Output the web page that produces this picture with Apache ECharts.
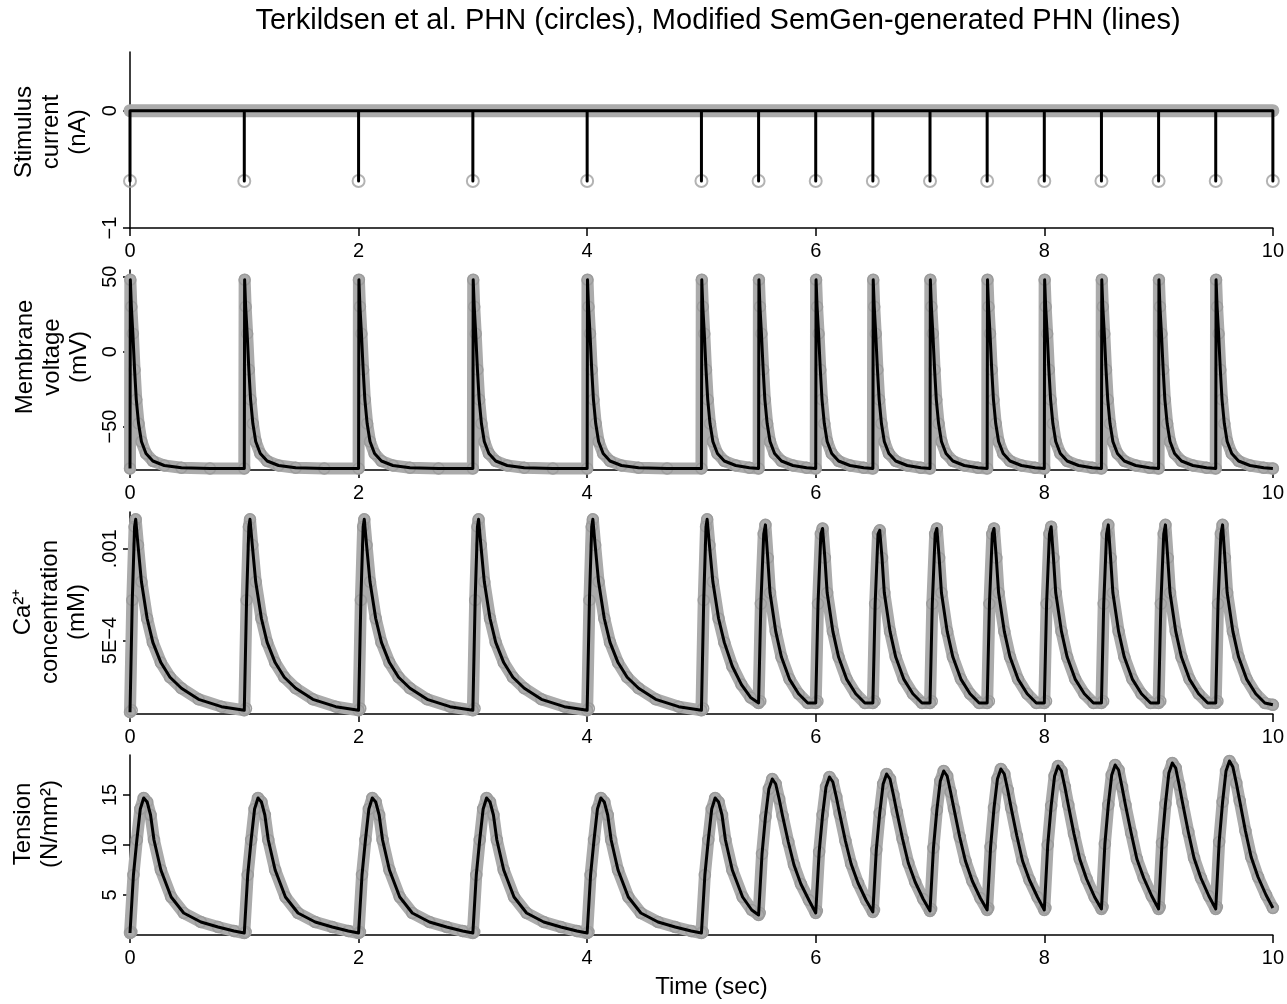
<!DOCTYPE html>
<html>
<head>
<meta charset="utf-8">
<script src="https://cdn.jsdelivr.net/npm/echarts@6/dist/echarts.min.js"></script>
<style>
html,body{margin:0;padding:0;background:#fff;}
#chart{width:1287px;height:1004px;}
</style>
</head>
<body>
<div id="chart"></div>
<script>
// ---------- data ----------
const stimTimes = [0,1,2,3,4,5,5.5,6,6.5,7,7.5,8,8.5,9,9.5,10];
const stimAmps  = [-0.6,-0.6,-0.6,-0.6,-0.6,-0.6,-0.6,-0.6,-0.6,-0.6,-0.6,-0.6,-0.6,-0.6,-0.6,-0.6];
const stimBaseTimes  = [0,10];
const stimBaseValues = [0,0];

const voltTimes = [
 0,0.003,0.012,0.025,0.04,0.055,0.075,0.1,0.14,0.2,0.3,0.45,0.7,
 1,1.003,1.012,1.025,1.04,1.055,1.075,1.1,1.14,1.2,1.3,1.45,1.7,
 2,2.003,2.012,2.025,2.04,2.055,2.075,2.1,2.14,2.2,2.3,2.45,2.7,
 3,3.003,3.012,3.025,3.04,3.055,3.075,3.1,3.14,3.2,3.3,3.45,3.7,
 4,4.003,4.012,4.025,4.04,4.055,4.075,4.1,4.14,4.2,4.3,4.45,4.7,
 5,5.003,5.012,5.025,5.04,5.055,5.075,5.1,5.14,5.2,5.3,5.42,
 5.5,5.503,5.512,5.525,5.54,5.555,5.575,5.6,5.64,5.7,5.8,5.92,
 6,6.003,6.012,6.025,6.04,6.055,6.075,6.1,6.14,6.2,6.3,6.42,
 6.5,6.503,6.512,6.525,6.54,6.555,6.575,6.6,6.64,6.7,6.8,6.92,
 7,7.003,7.012,7.025,7.04,7.055,7.075,7.1,7.14,7.2,7.3,7.42,
 7.5,7.503,7.512,7.525,7.54,7.555,7.575,7.6,7.64,7.7,7.8,7.92,
 8,8.003,8.012,8.025,8.04,8.055,8.075,8.1,8.14,8.2,8.3,8.42,
 8.5,8.503,8.512,8.525,8.54,8.555,8.575,8.6,8.64,8.7,8.8,8.92,
 9,9.003,9.012,9.025,9.04,9.055,9.075,9.1,9.14,9.2,9.3,9.42,
 9.5,9.503,9.512,9.525,9.54,9.555,9.575,9.6,9.64,9.7,9.8,9.92,
 10];
const voltValues = [
 -78,48,30,12,-12,-32,-48,-60,-68,-73,-76,-77.5,-78,
 -78,48,30,12,-12,-32,-48,-60,-68,-73,-76,-77.5,-78,
 -78,48,30,12,-12,-32,-48,-60,-68,-73,-76,-77.5,-78,
 -78,48,30,12,-12,-32,-48,-60,-68,-73,-76,-77.5,-78,
 -78,48,30,12,-12,-32,-48,-60,-68,-73,-76,-77.5,-78,
 -78,48,30,12,-12,-32,-48,-60,-68,-73,-76,-77.5,
 -78,48,30,12,-12,-32,-48,-60,-68,-73,-76,-77.5,
 -78,48,30,12,-12,-32,-48,-60,-68,-73,-76,-77.5,
 -78,48,30,12,-12,-32,-48,-60,-68,-73,-76,-77.5,
 -78,48,30,12,-12,-32,-48,-60,-68,-73,-76,-77.5,
 -78,48,30,12,-12,-32,-48,-60,-68,-73,-76,-77.5,
 -78,48,30,12,-12,-32,-48,-60,-68,-73,-76,-77.5,
 -78,48,30,12,-12,-32,-48,-60,-68,-73,-76,-77.5,
 -78,48,30,12,-12,-32,-48,-60,-68,-73,-76,-77.5,
 -78,48,30,12,-12,-32,-48,-60,-68,-73,-76,-77.5,
 -78];

const caTimes = [
 0,0.015,0.02,0.04,0.05,0.07,0.1,0.15,0.2,0.27,0.35,0.45,0.6,0.8,
 1,1.015,1.02,1.04,1.05,1.07,1.1,1.15,1.2,1.27,1.35,1.45,1.6,1.8,
 2,2.015,2.02,2.04,2.05,2.07,2.1,2.15,2.2,2.27,2.35,2.45,2.6,2.8,
 3,3.015,3.02,3.04,3.05,3.07,3.1,3.15,3.2,3.27,3.35,3.45,3.6,3.8,
 4,4.015,4.02,4.04,4.05,4.07,4.1,4.15,4.2,4.27,4.35,4.45,4.6,4.8,
 5,5.015,5.02,5.04,5.05,5.07,5.1,5.15,5.2,5.27,5.35,5.43,
 5.5,5.515,5.52,5.545,5.56,5.58,5.6,5.65,5.7,5.77,5.85,5.93,
 6,6.015,6.02,6.045,6.06,6.08,6.1,6.15,6.2,6.27,6.35,6.43,
 6.5,6.515,6.52,6.545,6.56,6.58,6.6,6.65,6.7,6.77,6.85,6.93,
 7,7.015,7.02,7.045,7.06,7.08,7.1,7.15,7.2,7.27,7.35,7.43,
 7.5,7.515,7.52,7.545,7.56,7.58,7.6,7.65,7.7,7.77,7.85,7.93,
 8,8.015,8.02,8.045,8.06,8.08,8.1,8.15,8.2,8.27,8.35,8.43,
 8.5,8.515,8.52,8.545,8.56,8.58,8.6,8.65,8.7,8.77,8.85,8.93,
 9,9.015,9.02,9.045,9.06,9.08,9.1,9.15,9.2,9.27,9.35,9.43,
 9.5,9.515,9.52,9.545,9.56,9.58,9.6,9.65,9.7,9.77,9.85,9.93,
 10];
const caValues = [
 0.00011,0.00012,0.00072,0.00112,0.00116,0.00102,0.00082,0.00062,0.00049,0.00038,0.00030,0.00024,0.00018,0.00014,
 0.00012,0.00013,0.00072,0.00112,0.00116,0.00102,0.00082,0.00062,0.00049,0.00038,0.00030,0.00024,0.00018,0.00014,
 0.00012,0.00013,0.00072,0.00112,0.00116,0.00102,0.00082,0.00062,0.00049,0.00038,0.00030,0.00024,0.00018,0.00014,
 0.00012,0.00013,0.00072,0.00112,0.00116,0.00102,0.00082,0.00062,0.00049,0.00038,0.00030,0.00024,0.00018,0.00014,
 0.00012,0.00013,0.00072,0.00112,0.00116,0.00102,0.00082,0.00062,0.00049,0.00038,0.00030,0.00024,0.00018,0.00014,
 0.00012,0.00013,0.00072,0.00112,0.00116,0.00102,0.00082,0.00062,0.00049,0.00036,0.00026,0.00019,
 0.00016,0.00017,0.00070,0.00108,0.00113,0.00095,0.00076,0.00055,0.00041,0.00029,0.00021,0.00016,
 0.00016,0.00017,0.00070,0.00108,0.00111,0.00095,0.00076,0.00055,0.00041,0.00029,0.00021,0.00016,
 0.00016,0.00017,0.00070,0.00108,0.00110,0.00095,0.00076,0.00055,0.00041,0.00029,0.00021,0.00016,
 0.00016,0.00017,0.00070,0.00108,0.00111,0.00095,0.00076,0.00055,0.00041,0.00029,0.00021,0.00016,
 0.00016,0.00017,0.00070,0.00108,0.00111,0.00095,0.00076,0.00055,0.00041,0.00029,0.00021,0.00016,
 0.00016,0.00017,0.00070,0.00108,0.00112,0.00095,0.00076,0.00055,0.00041,0.00029,0.00021,0.00016,
 0.00016,0.00017,0.00070,0.00108,0.00113,0.00095,0.00076,0.00055,0.00041,0.00029,0.00021,0.00016,
 0.00016,0.00017,0.00070,0.00108,0.00113,0.00095,0.00076,0.00055,0.00041,0.00029,0.00021,0.00016,
 0.00016,0.00017,0.00070,0.00108,0.00113,0.00095,0.00076,0.00055,0.00041,0.00029,0.00021,0.00016,
 0.00015];

const tensTimes = [
 0,0.012,0.03,0.06,0.09,0.12,0.15,0.18,0.21,0.27,0.36,0.47,0.62,0.77,0.91,
 1,1.012,1.03,1.06,1.09,1.12,1.15,1.18,1.21,1.27,1.36,1.47,1.62,1.77,1.91,
 2,2.012,2.03,2.06,2.09,2.12,2.15,2.18,2.21,2.27,2.36,2.47,2.62,2.77,2.91,
 3,3.012,3.03,3.06,3.09,3.12,3.15,3.18,3.21,3.27,3.36,3.47,3.62,3.77,3.91,
 4,4.012,4.03,4.06,4.09,4.12,4.15,4.18,4.21,4.27,4.36,4.47,4.62,4.77,4.91,
 5,5.012,5.03,5.06,5.09,5.12,5.15,5.18,5.21,5.27,5.36,5.44,
 5.5,5.51,5.53,5.56,5.59,5.62,5.65,5.68,5.71,5.76,5.81,5.87,5.94,
 6,6.01,6.03,6.06,6.09,6.12,6.15,6.18,6.21,6.26,6.31,6.37,6.44,
 6.5,6.51,6.53,6.56,6.59,6.62,6.65,6.68,6.71,6.76,6.81,6.87,6.94,
 7,7.01,7.03,7.06,7.09,7.12,7.15,7.18,7.21,7.26,7.31,7.37,7.44,
 7.5,7.51,7.53,7.56,7.59,7.62,7.65,7.68,7.71,7.76,7.81,7.87,7.94,
 8,8.01,8.03,8.06,8.09,8.12,8.15,8.18,8.21,8.26,8.31,8.37,8.44,
 8.5,8.51,8.53,8.56,8.59,8.62,8.65,8.68,8.71,8.76,8.81,8.87,8.94,
 9,9.01,9.03,9.06,9.09,9.12,9.15,9.18,9.21,9.26,9.31,9.37,9.44,
 9.5,9.51,9.53,9.56,9.59,9.62,9.65,9.68,9.71,9.76,9.81,9.87,9.94,
 10];
const tensValues = [
 1.2,1.3,7.0,10.5,13.6,14.7,14.3,13.0,10.5,7.5,4.8,3.2,2.3,1.8,1.4,
 1.2,1.3,7.0,10.5,13.6,14.7,14.3,13.0,10.5,7.5,4.8,3.2,2.3,1.8,1.4,
 1.2,1.3,7.0,10.5,13.6,14.7,14.3,13.0,10.5,7.5,4.8,3.2,2.3,1.8,1.4,
 1.2,1.3,7.0,10.5,13.6,14.7,14.3,13.0,10.5,7.5,4.8,3.2,2.3,1.8,1.4,
 1.2,1.3,7.0,10.5,13.6,14.7,14.3,13.0,10.5,7.5,4.8,3.2,2.3,1.8,1.4,
 1.2,1.3,7.0,10.5,13.6,14.7,14.3,13.0,10.5,7.5,4.8,3.5,
 3.0,3.2,9.1,12.8,15.6,16.6,16.1,14.6,12.9,10.3,8.0,6.1,4.5,
 3.2,3.4,9.3,13.0,15.8,16.8,16.3,14.8,13.1,10.4,8.1,6.2,4.5,
 3.3,3.5,9.5,13.2,16.1,17.1,16.6,15.0,13.3,10.6,8.2,6.3,4.6,
 3.4,3.6,9.7,13.5,16.4,17.4,16.9,15.3,13.6,10.8,8.4,6.4,4.7,
 3.5,3.7,9.8,13.7,16.6,17.6,17.1,15.5,13.7,10.9,8.4,6.5,4.8,
 3.5,3.7,10.0,13.9,16.9,17.9,17.4,15.8,14.0,11.1,8.6,6.6,4.8,
 3.6,3.8,10.1,14.0,17.0,18.0,17.5,15.8,14.0,11.2,8.6,6.7,4.9,
 3.6,3.8,10.2,14.1,17.2,18.2,17.7,16.0,14.2,11.3,8.7,6.7,4.9,
 3.6,3.8,10.3,14.3,17.4,18.4,17.8,16.2,14.4,11.4,8.8,6.8,5.0,
 3.7];

const xTicks = [0,2,4,6,8,10];
const titleText = 'Terkildsen et al. PHN (circles), Modified SemGen-generated PHN (lines)';
const yNames = ['Stimulus\ncurrent\n(nA)', 'Membrane\nvoltage\n(mV)', 'Ca\u00B2\u207A\nconcentration\n(mM)', 'Tension\n(N/mm\u00B2)'];
const xName = 'Time (sec)';

// ---------- build ----------
const FONT = "'Liberation Sans', Arial, Helvetica, sans-serif";
const pairs = (ts, vs) => ts.map((t, i) => [t, vs[i]]);
const stimLine = [];
stimTimes.forEach((t, i) => { stimLine.push([t, 0], [t, stimAmps[i]], [t, 0]); });

const grids = [
  {left:130, right:14, top:52,  height:176},
  {left:130, right:14, top:270, height:200},
  {left:130, right:14, top:512, height:202},
  {left:130, right:14, top:755, height:180}
];

const xAxes = grids.map((g, i) => ({
  type:'value', gridIndex:i, min:0, max:10, interval:2,
  name: i === 3 ? xName : '', nameLocation:'middle', nameGap:40,
  nameTextStyle:{fontSize:24, color:'#000', fontFamily:FONT, padding:[0,0,0,20]},
  axisLine:{onZero:false, lineStyle:{color:'#000', width:1.5}},
  axisTick:{length:8, lineStyle:{color:'#000', width:1.5}},
  axisLabel:{fontSize:20, color:'#000', margin:13, fontFamily:FONT},
  splitLine:{show:false}
}));

const yDefs = [
  {min:-1, max:0.5, ticks:[-1,0], fmt:v => v === -1 ? '\u22121' : '0'},
  {min:-79, max:54.5, ticks:[-50,0,50], fmt:v => v < 0 ? '\u221250' : String(v)},
  {min:0.0001, max:0.0012, ticks:[0.0005,0.001], fmt:v => v < 0.0007 ? '5E\u22124' : '.001'},
  {min:1, max:19, ticks:[5,10,15], fmt:v => String(v)}
];
const yAxes = yDefs.map((d, i) => ({
  type:'value', gridIndex:i, min:d.min, max:d.max,
  axisLine:{show:true, onZero:false, lineStyle:{color:'#000', width:1.5}},
  axisTick:{show:true, length:7, customValues:d.ticks, lineStyle:{color:'#000', width:1.5}},
  axisLabel:{rotate:90, customValues:d.ticks, formatter:d.fmt, fontSize:20, color:'#000', margin:10, fontFamily:FONT},
  splitLine:{show:false}
}));

const GRAY = '#ababab';
const circleSeries = (name, i, data) => ({
  name, type:'line', xAxisIndex:i, yAxisIndex:i, data, clip:false,
  lineStyle:{color:GRAY, width:12, cap:'round', join:'round'},
  symbol:'circle', symbolSize:11, showSymbol:true,
  itemStyle:{color:'rgba(255,255,255,0)', borderColor:'#9c9c9c', borderWidth:1.5},
  emphasis:{disabled:true}, z:2
});
const lineSeries = (name, i, data) => ({
  name, type:'line', xAxisIndex:i, yAxisIndex:i, data, clip:false,
  lineStyle:{color:'#000', width:3, join:'round'},
  symbol:'none', emphasis:{disabled:true}, z:3
});

const series = [
  {name:'Terkildsen stimulus baseline', type:'line', xAxisIndex:0, yAxisIndex:0,
   data:pairs(stimBaseTimes, stimBaseValues), clip:false, symbol:'none',
   lineStyle:{color:GRAY, width:13, cap:'round'}, emphasis:{disabled:true}, z:2},
  {name:'Terkildsen stimulus', type:'scatter', xAxisIndex:0, yAxisIndex:0,
   data:pairs(stimTimes, stimAmps), clip:false, symbol:'circle', symbolSize:12,
   itemStyle:{color:'rgba(255,255,255,0)', borderColor:'#a0a0a0', borderWidth:2},
   emphasis:{disabled:true}, z:2},
  lineSeries('SemGen stimulus', 0, stimLine),
  circleSeries('Terkildsen voltage', 1, pairs(voltTimes, voltValues)),
  lineSeries('SemGen voltage', 1, pairs(voltTimes, voltValues)),
  circleSeries('Terkildsen Ca', 2, pairs(caTimes, caValues)),
  lineSeries('SemGen Ca', 2, pairs(caTimes, caValues)),
  circleSeries('Terkildsen tension', 3, pairs(tensTimes, tensValues)),
  lineSeries('SemGen tension', 3, pairs(tensTimes, tensValues))
];

const nameCenters = [[51,132],[52,357],[50,612],[37,824]];
const graphic = [
  {type:'text', x:718, y:21, silent:true,
   style:{text:titleText, fontSize:29, fontFamily:FONT, fill:'#000', align:'center', verticalAlign:'middle'}}
].concat(yNames.map((n, i) => ({
  type:'text', x:nameCenters[i][0], y:nameCenters[i][1], rotation:Math.PI/2, silent:true,
  style:{text:n, fontSize:24, lineHeight:27, fontFamily:FONT, fill:'#000', align:'center', verticalAlign:'middle'}
})));

const chart = echarts.init(document.getElementById('chart'), null, {renderer:'canvas'});
chart.setOption({
  animation:false,
  backgroundColor:'#fff',
  grid:grids,
  xAxis:xAxes,
  yAxis:yAxes,
  series,
  graphic
});
</script>
</body>
</html>
